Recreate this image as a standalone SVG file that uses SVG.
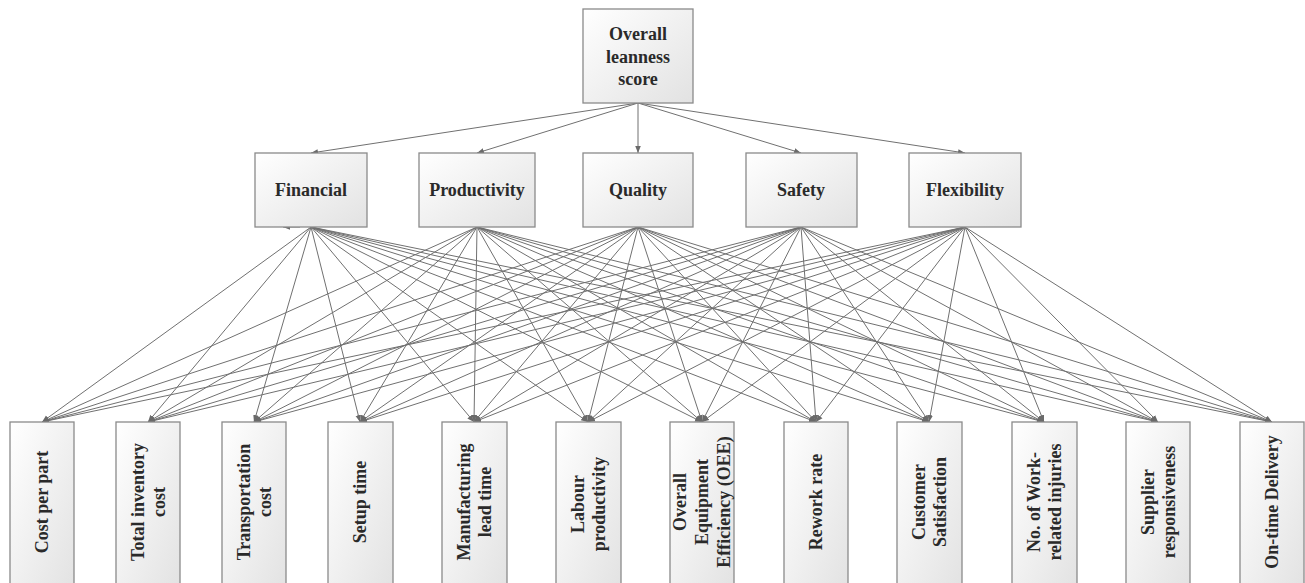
<svg xmlns="http://www.w3.org/2000/svg" width="1305" height="583" viewBox="0 0 1305 583">
<style>
.box{fill:url(#g);stroke:#8a8a8a;stroke-width:1.3}
.t{font-family:"Liberation Serif","Times New Roman",serif;font-weight:bold;font-size:18px;fill:#2a2a2a;text-anchor:middle}
.c line{stroke:#707070;stroke-width:1;fill:none;marker-end:url(#a)}
</style>
<defs>
<linearGradient id="g" x1="0" y1="0" x2="1" y2="1">
<stop offset="0" stop-color="#ffffff"/>
<stop offset="1" stop-color="#e2e2e2"/>
</linearGradient>
<marker id="a" viewBox="0 0 10 10" refX="10" refY="5" markerWidth="7" markerHeight="7" markerUnits="userSpaceOnUse" orient="auto">
<path d="M0,1 L10,5 L0,9 z" fill="#6a6a6a"/>
</marker>
</defs>
<g class="c" id="connectors">
<line x1="638" y1="103" x2="311" y2="153"/>
<line x1="638" y1="103" x2="477" y2="153"/>
<line x1="638" y1="103" x2="638" y2="153"/>
<line x1="638" y1="103" x2="801" y2="153"/>
<line x1="638" y1="103" x2="965" y2="153"/>
<line x1="300" y1="227" x2="283" y2="227"/>
<line x1="311" y1="227" x2="42" y2="422"/><line x1="311" y1="227" x2="148" y2="422"/><line x1="311" y1="227" x2="254" y2="422"/><line x1="311" y1="227" x2="360" y2="422"/><line x1="311" y1="227" x2="474" y2="422"/><line x1="311" y1="227" x2="588" y2="422"/><line x1="311" y1="227" x2="702" y2="422"/><line x1="311" y1="227" x2="816" y2="422"/><line x1="311" y1="227" x2="929" y2="422"/><line x1="311" y1="227" x2="1044" y2="422"/><line x1="311" y1="227" x2="1158" y2="422"/><line x1="311" y1="227" x2="1272" y2="422"/>
<line x1="477" y1="227" x2="42" y2="422"/><line x1="477" y1="227" x2="148" y2="422"/><line x1="477" y1="227" x2="254" y2="422"/><line x1="477" y1="227" x2="360" y2="422"/><line x1="477" y1="227" x2="474" y2="422"/><line x1="477" y1="227" x2="588" y2="422"/><line x1="477" y1="227" x2="702" y2="422"/><line x1="477" y1="227" x2="816" y2="422"/><line x1="477" y1="227" x2="929" y2="422"/><line x1="477" y1="227" x2="1044" y2="422"/><line x1="477" y1="227" x2="1158" y2="422"/><line x1="477" y1="227" x2="1272" y2="422"/>
<line x1="638" y1="227" x2="42" y2="422"/><line x1="638" y1="227" x2="148" y2="422"/><line x1="638" y1="227" x2="254" y2="422"/><line x1="638" y1="227" x2="360" y2="422"/><line x1="638" y1="227" x2="474" y2="422"/><line x1="638" y1="227" x2="588" y2="422"/><line x1="638" y1="227" x2="702" y2="422"/><line x1="638" y1="227" x2="816" y2="422"/><line x1="638" y1="227" x2="929" y2="422"/><line x1="638" y1="227" x2="1044" y2="422"/><line x1="638" y1="227" x2="1158" y2="422"/><line x1="638" y1="227" x2="1272" y2="422"/>
<line x1="801" y1="227" x2="42" y2="422"/><line x1="801" y1="227" x2="148" y2="422"/><line x1="801" y1="227" x2="254" y2="422"/><line x1="801" y1="227" x2="360" y2="422"/><line x1="801" y1="227" x2="474" y2="422"/><line x1="801" y1="227" x2="588" y2="422"/><line x1="801" y1="227" x2="702" y2="422"/><line x1="801" y1="227" x2="816" y2="422"/><line x1="801" y1="227" x2="929" y2="422"/><line x1="801" y1="227" x2="1044" y2="422"/><line x1="801" y1="227" x2="1158" y2="422"/><line x1="801" y1="227" x2="1272" y2="422"/>
<line x1="965" y1="227" x2="42" y2="422"/><line x1="965" y1="227" x2="148" y2="422"/><line x1="965" y1="227" x2="254" y2="422"/><line x1="965" y1="227" x2="360" y2="422"/><line x1="965" y1="227" x2="474" y2="422"/><line x1="965" y1="227" x2="588" y2="422"/><line x1="965" y1="227" x2="702" y2="422"/><line x1="965" y1="227" x2="816" y2="422"/><line x1="965" y1="227" x2="929" y2="422"/><line x1="965" y1="227" x2="1044" y2="422"/><line x1="965" y1="227" x2="1158" y2="422"/><line x1="965" y1="227" x2="1272" y2="422"/>
</g>
<g id="overall"><rect class="box" x="583" y="9" width="110" height="94"/>
<text class="t" x="638" y="40">Overall</text><text class="t" x="638" y="63">leanness</text><text class="t" x="638" y="85">score</text></g>
<g id="financial"><rect class="box" x="255" y="153" width="112" height="74"/><text class="t" x="311" y="196">Financial</text></g>
<g id="productivity"><rect class="box" x="419" y="153" width="116" height="74"/><text class="t" x="477" y="196">Productivity</text></g>
<g id="quality"><rect class="box" x="583" y="153" width="110" height="74"/><text class="t" x="638" y="196">Quality</text></g>
<g id="safety"><rect class="box" x="746" y="153" width="111" height="74"/><text class="t" x="801" y="196">Safety</text></g>
<g id="flexibility"><rect class="box" x="909" y="153" width="112" height="74"/><text class="t" x="965" y="196">Flexibility</text></g>
<g id="cost-per-part"><rect class="box" x="10" y="422" width="64" height="170"/><text class="t" transform="translate(42,502) rotate(-90)" y="6">Cost per part</text></g>
<g id="total-inventory"><rect class="box" x="116" y="422" width="64" height="170"/><text class="t" transform="translate(148,502) rotate(-90)"><tspan x="0" y="-4.5">Total inventory</tspan><tspan x="0" y="16.5">cost</tspan></text></g>
<g id="transportation"><rect class="box" x="222" y="422" width="64" height="170"/><text class="t" transform="translate(254,502) rotate(-90)"><tspan x="0" y="-4.5">Transportation</tspan><tspan x="0" y="16.5">cost</tspan></text></g>
<g id="setup"><rect class="box" x="328" y="422" width="65" height="170"/><text class="t" transform="translate(360,502) rotate(-90)" y="6">Setup time</text></g>
<g id="mlt"><rect class="box" x="442" y="422" width="65" height="170"/><text class="t" transform="translate(474,502) rotate(-90)"><tspan x="0" y="-4.5">Manufacturing</tspan><tspan x="0" y="16.5">lead time</tspan></text></g>
<g id="labour"><rect class="box" x="556" y="422" width="65" height="170"/><text class="t" transform="translate(588,504) rotate(-90)"><tspan x="0" y="-4.5">Labour</tspan><tspan x="0" y="16.5">productivity</tspan></text></g>
<g id="oee"><rect class="box" x="670" y="422" width="64" height="170"/><text class="t" transform="translate(702,502) rotate(-90)"><tspan x="0" y="-16">Overall</tspan><tspan x="0" y="6">Equipment</tspan><tspan x="0" y="28">Efficiency (OEE)</tspan></text></g>
<g id="rework"><rect class="box" x="784" y="422" width="64" height="170"/><text class="t" transform="translate(816,502) rotate(-90)" y="6">Rework rate</text></g>
<g id="customer"><rect class="box" x="897" y="422" width="65" height="170"/><text class="t" transform="translate(929,502) rotate(-90)"><tspan x="0" y="-4.5">Customer</tspan><tspan x="0" y="16.5">Satisfaction</tspan></text></g>
<g id="injuries"><rect class="box" x="1012" y="422" width="65" height="170"/><text class="t" transform="translate(1044,502) rotate(-90)"><tspan x="0" y="-4.5">No. of Work-</tspan><tspan x="0" y="16.5">related injuries</tspan></text></g>
<g id="supplier"><rect class="box" x="1126" y="422" width="64" height="170"/><text class="t" transform="translate(1158,502) rotate(-90)"><tspan x="0" y="-4.5">Supplier</tspan><tspan x="0" y="16.5">responsiveness</tspan></text></g>
<g id="ontime"><rect class="box" x="1240" y="422" width="64" height="170"/><text class="t" transform="translate(1272,502) rotate(-90)" y="6">On-time Delivery</text></g>
</svg>
